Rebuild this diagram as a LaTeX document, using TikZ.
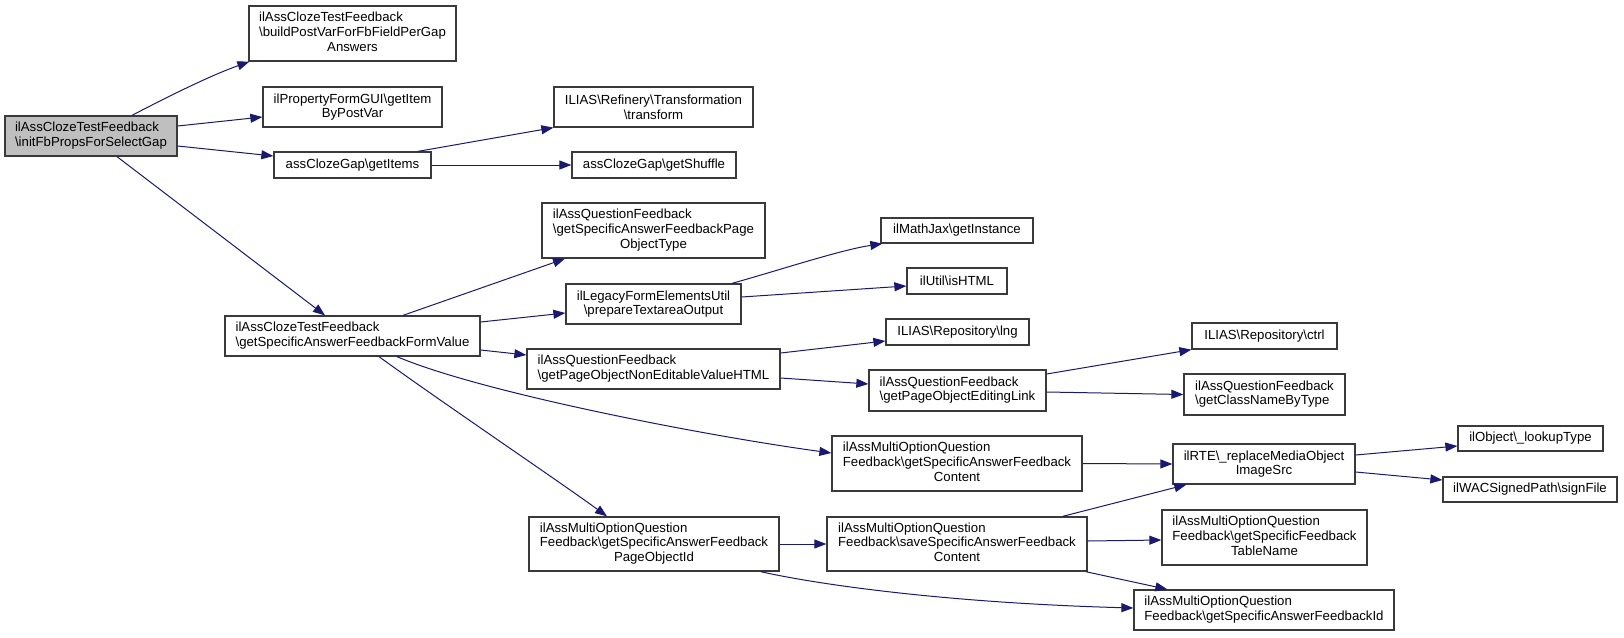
\documentclass[tikz,border=0pt]{standalone}
\usepackage{fontspec}
\setmainfont{Liberation Sans}
\usetikzlibrary{arrows.meta}
\definecolor{edgeblue}{HTML}{191970}
\definecolor{boxline}{HTML}{3a3a3a}
\newcommand\dxbs{\textbackslash}
\newcommand\dxtwo[2]{\begin{tabular}{@{}l@{}}#1\\#2\end{tabular}}
\newcommand\dxthree[3]{\begin{tabular}{@{}l@{}}#1\\#2\\\multicolumn{1}{@{}c@{}}{#3}\end{tabular}}
\tikzset{
  fn/.style={draw=boxline, line width=1.3pt, fill=white, inner sep=0pt,
    font=\fontsize{13.2}{14.7}\selectfont, align=center},
  rootfn/.style={fn, fill=black!25},
  call/.style={draw=edgeblue, line width=1pt, -{Triangle[length=12pt,width=9pt]}},
}
\begin{document}
\begin{tikzpicture}[x=1pt,y=-1pt]
\useasboundingbox (0,0) rectangle (1624,637);
% column 0/1
\node[rootfn, minimum width=172, minimum height=40] (root) at (91,136) {\dxtwo{ilAssClozeTestFeedback}{\dxbs initFbPropsForSelectGap}};
\node[fn, minimum width=207, minimum height=55] (buildPost) at (352.5,33.5) {\dxthree{ilAssClozeTestFeedback}{\dxbs buildPostVarForFbFieldPerGap}{Answers}};
\node[fn, minimum width=179, minimum height=40] (getItem) at (352.5,107) {ilPropertyFormGUI\dxbs getItem\\ByPostVar};
\node[fn, minimum width=157, minimum height=26] (getItems) at (352.5,165) {assClozeGap\dxbs getItems};
\node[fn, minimum width=255, minimum height=40] (formValue) at (352.5,336) {\dxtwo{ilAssClozeTestFeedback}{\dxbs getSpecificAnswerFeedbackFormValue}};
% column 2
\node[fn, minimum width=199, minimum height=40] (transform) at (653.5,107) {ILIAS\dxbs Refinery\dxbs Transformation\\\dxbs transform};
\node[fn, minimum width=164, minimum height=26] (getShuffle) at (654,165) {assClozeGap\dxbs getShuffle};
\node[fn, minimum width=223, minimum height=55] (pageObjType) at (653.5,230.5) {\dxthree{ilAssQuestionFeedback}{\dxbs getSpecificAnswerFeedbackPage}{ObjectType}};
\node[fn, minimum width=175, minimum height=40] (prepare) at (653.5,304) {ilLegacyFormElementsUtil\\\dxbs prepareTextareaOutput};
\node[fn, minimum width=253, minimum height=40] (nonEditable) at (653.5,369) {\dxtwo{ilAssQuestionFeedback}{\dxbs getPageObjectNonEditableValueHTML}};
\node[fn, minimum width=250, minimum height=54] (pageObjId) at (654,544) {\dxthree{ilAssMultiOptionQuestion}{Feedback\dxbs getSpecificAnswerFeedback}{PageObjectId}};
% column 3
\node[fn, minimum width=152, minimum height=25] (mathjax) at (957,230.5) {ilMathJax\dxbs getInstance};
\node[fn, minimum width=100, minimum height=26] (isHTML) at (957,281) {ilUtil\dxbs isHTML};
\node[fn, minimum width=143, minimum height=26] (lng) at (957.5,332) {ILIAS\dxbs Repository\dxbs lng};
\node[fn, minimum width=177, minimum height=41] (editingLink) at (957.5,390.5) {\dxtwo{ilAssQuestionFeedback}{\dxbs getPageObjectEditingLink}};
\node[fn, minimum width=250, minimum height=55] (multiContent) at (957,463.5) {\dxthree{ilAssMultiOptionQuestion}{Feedback\dxbs getSpecificAnswerFeedback}{Content}};
\node[fn, minimum width=260, minimum height=54] (saveContent) at (957,544) {\dxthree{ilAssMultiOptionQuestion}{Feedback\dxbs saveSpecificAnswerFeedback}{Content}};
% column 4
\node[fn, minimum width=145, minimum height=26] (ctrl) at (1264.5,336) {ILIAS\dxbs Repository\dxbs ctrl};
\node[fn, minimum width=161, minimum height=41] (className) at (1264.5,394.5) {\dxtwo{ilAssQuestionFeedback}{\dxbs getClassNameByType}};
\node[fn, minimum width=182, minimum height=40] (replaceMedia) at (1264,464) {ilRTE\dxbs \_replaceMediaObject\\ImageSrc};
\node[fn, minimum width=205, minimum height=55] (tableName) at (1264.5,537.5) {\dxthree{ilAssMultiOptionQuestion}{Feedback\dxbs getSpecificFeedback}{TableName}};
\node[fn, minimum width=260, minimum height=40] (feedbackId) at (1264,610) {\dxtwo{ilAssMultiOptionQuestion}{Feedback\dxbs getSpecificAnswerFeedbackId}};
% column 5
\node[fn, minimum width=145, minimum height=25] (lookupType) at (1530.5,438.5) {ilObject\dxbs \_lookupType};
\node[fn, minimum width=174, minimum height=25] (signFile) at (1530,489.5) {ilWACSignedPath\dxbs signFile};
% edges
\draw[call] ([xshift=41]root.north) .. controls (175,93) and (212,75) .. ([xshift=1]buildPost.south west);
\draw[call] ([yshift=10]root.east) -- ([yshift=-10]getItem.west);
\draw[call] ([yshift=-10]root.east) -- ([yshift=9]getItems.west);
\draw[call] ([xshift=26]root.south) -- ([xshift=-27.5]formValue.north);
\draw[call] ([xshift=65.5]getItems.north) -- (transform.south west);
\draw[call] (getItems.east) -- (getShuffle.west);
\draw[call] ([xshift=50.5]formValue.north) -- ([xshift=-88.5]pageObjType.south);
\draw[call] ([yshift=14]formValue.east) -- ([yshift=-9]prepare.west);
\draw[call] ([yshift=-14]formValue.east) -- ([yshift=14]nonEditable.west);
\draw[call] ([xshift=44.5]formValue.south) .. controls (480,392) and (700,435) .. ([yshift=10.5]multiContent.west);
\draw[call] ([xshift=26.5]formValue.south) .. controls (440,401) and (560,482) .. ([xshift=-47]pageObjId.north);
\draw[call] ([xshift=78.5]prepare.north) .. controls (780,270) and (840,250) .. ([xshift=2]mathjax.south west);
\draw[call] ([yshift=7]prepare.east) -- ([yshift=-5]isHTML.west);
\draw[call] ([yshift=16]nonEditable.east) -- ([yshift=-9]lng.west);
\draw[call] ([yshift=-9]nonEditable.east) -- ([yshift=6.5]editingLink.west);
\draw[call] ([yshift=16.5]editingLink.east) -- (ctrl.south west);
\draw[call] ([yshift=-1.5]editingLink.east) -- (className.west);
\draw[call] (multiContent.east) -- (replaceMedia.west);
\draw[call] ([yshift=9]replaceMedia.east) -- ([yshift=-7.5]lookupType.west);
\draw[call] ([yshift=-8]replaceMedia.east) -- ([yshift=9.5]signFile.west);
\draw[call] (pageObjId.east) -- (saveContent.west);
\draw[call] ([xshift=-19]pageObjId.south east) .. controls (820,585) and (950,603) .. ([yshift=2]feedbackId.west);
\draw[call] ([xshift=-25]saveContent.north east) -- ([xshift=14]replaceMedia.south west);
\draw[call] ([yshift=3]saveContent.east) -- ([yshift=-2.5]tableName.west);
\draw[call] ([xshift=-2]saveContent.south east) -- ([xshift=34]feedbackId.north west);
\end{tikzpicture}
\end{document}
